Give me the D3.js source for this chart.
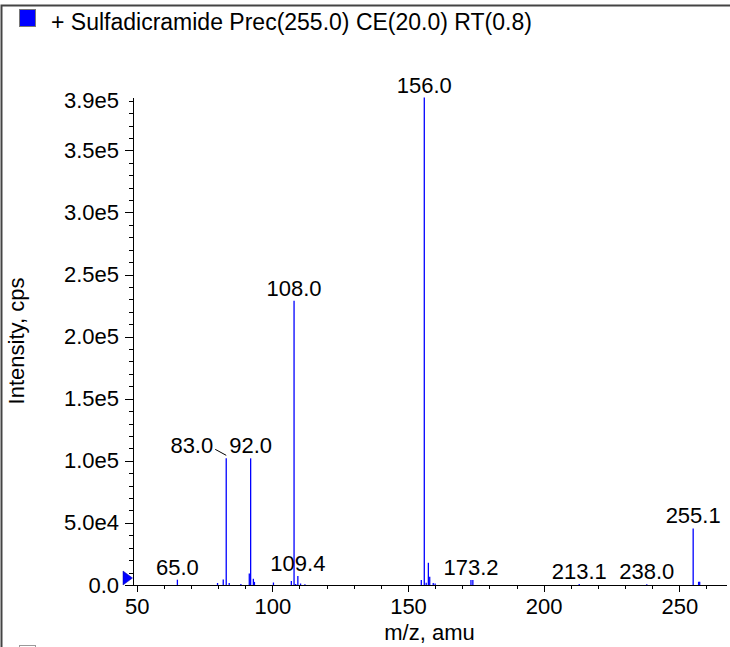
<!DOCTYPE html>
<html>
<head>
<meta charset="utf-8">
<script src="https://cdn.jsdelivr.net/npm/d3@7"></script>
<style>
  body { margin: 0; background: #fff; }
  svg { display: block; font-family: "Liberation Sans", Arial, Helvetica, sans-serif; }
  .axis path, .axis line { stroke: #000; stroke-width: 1; shape-rendering: crispEdges; }
  .axis text { font-size: 22px; fill: #000; font-family: "Liberation Sans", Arial, sans-serif; }
  .peakLabel { font-size: 22px; fill: #000; }
</style>
</head>
<body>
<div id="plot"></div>
<script>
var width = 730;
var height = 647;

// Title / legend
var title = "+ Sulfadicramide Prec(255.0) CE(20.0) RT(0.8)";

// Peaks (m/z, intensity in cps)
var mz        = [65.0, 79.8, 81.9, 83.0, 84.1, 88.4, 91.5, 92.0, 93.0, 93.4, 100.4, 107.0, 108.0, 108.6, 109.4, 110.4, 112.0,
                 154.9, 156.0, 156.7, 157.5, 158.0, 159.3, 160.0, 173.2, 173.9, 213.1, 238.0, 255.1, 257.1, 257.5];
var intensity = [4300, 1600, 4400, 102000, 1600, 800, 9200, 102000, 5000, 2500, 2000, 3300, 229000, 900, 7300, 1200, 700,
                 4000, 392500, 1800, 17900, 6700, 1700, 1200, 4000, 4000, 800, 700, 45600, 2600, 2600];

// Annotated peaks
var labelMz = [65.0, 83.0, 92.0, 108.0, 109.4, 156.0, 173.2, 213.1, 238.0, 255.1];

// Axis ticks
var xMajor = [50, 100, 150, 200, 250];
var xMinor = d3.range(50, 261, 10);
var yMajor = [0, 50000, 100000, 150000, 200000, 250000, 300000, 350000, 390000];
var yMinor = d3.range(0, 390001, 10000);
var xDomain = [48.64, 267.2];
var yDomain = [0, 393000];

var plotLeft = 133, plotRight = 726, plotTop = 97, plotBottom = 585;

var svg = d3.select("#plot").append("svg")
    .attr("width", width)
    .attr("height", height);

// Frame
svg.append("path")
    .attr("d", "M" + width + ",5.5H1.5V" + height)
    .attr("fill", "none")
    .attr("stroke", "#444")
    .attr("stroke-width", 2);

// Legend square + title
svg.append("rect")
    .attr("x", 19.5).attr("y", 9.5)
    .attr("width", 16).attr("height", 17)
    .attr("fill", "#0000ff")
    .attr("stroke", "#777");
svg.append("text")
    .attr("x", 51)
    .attr("y", 29.5)
    .style("font-size", "23px")
    .text(title);

// partially visible next legend entry at bottom
svg.append("rect")
    .attr("x", 19.5).attr("y", 645.5)
    .attr("width", 16).attr("height", 17)
    .attr("fill", "#fff")
    .attr("stroke", "#999");

var scaleX = d3.scaleLinear().domain(xDomain).range([plotLeft, plotRight]);
var scaleY = d3.scaleLinear().domain(yDomain).range([plotBottom, plotTop]);

function fmtY(v) {
    if (v === 0) return "0.0";
    return d3.format(".1e")(v).replace("e+", "e");
}

// X axis: minor then major
svg.append("g")
    .attr("class", "axis")
    .attr("transform", "translate(0," + plotBottom + ")")
    .call(d3.axisBottom(scaleX).tickValues(xMinor).tickSize(4).tickSizeOuter(0).tickFormat(""));
svg.append("g")
    .attr("class", "axis")
    .attr("transform", "translate(0," + plotBottom + ")")
    .call(d3.axisBottom(scaleX).tickValues(xMajor).tickSize(7).tickSizeOuter(0).tickPadding(6).tickFormat(d3.format("d")));

// Y axis: minor then major
svg.append("g")
    .attr("class", "axis")
    .attr("transform", "translate(" + plotLeft + ",0)")
    .call(d3.axisLeft(scaleY).tickValues(yMinor).tickSize(4).tickSizeOuter(0).tickFormat(""));
var yAxisG = svg.append("g")
    .attr("class", "axis")
    .attr("transform", "translate(" + plotLeft + ",0)")
    .call(d3.axisLeft(scaleY).tickValues(yMajor).tickSize(8).tickSizeOuter(0).tickPadding(6).tickFormat(fmtY));
// top label tick is a short one
yAxisG.selectAll(".tick").filter(function(d) { return d === 390000; })
    .select("line").attr("x2", -4);

// Axis titles
svg.append("text")
    .attr("x", (plotLeft + plotRight) / 2)
    .attr("y", 639.5)
    .attr("text-anchor", "middle")
    .style("font-size", "22px")
    .text("m/z, amu");
svg.append("text")
    .attr("transform", "translate(23.5," + (plotTop + plotBottom) / 2 + ") rotate(-90)")
    .attr("text-anchor", "middle")
    .style("font-size", "22px")
    .text("Intensity, cps");

// Spectrum sticks
var peaks = mz.map(function(m, i) { return { mz: m, intensity: intensity[i] }; });
svg.append("g").selectAll("line.peak")
    .data(peaks)
    .enter().append("line")
    .attr("class", "peak")
    .attr("x1", function(d) { return scaleX(d.mz); })
    .attr("x2", function(d) { return scaleX(d.mz); })
    .attr("y1", scaleY(0))
    .attr("y2", function(d) { return scaleY(d.intensity); })
    .attr("stroke", "#0000ff")
    .attr("stroke-width", 1.3);

// Zero marker triangle
svg.append("path")
    .attr("d", "M" + (plotLeft - 10) + "," + (scaleY(0) - 14) + "L" + (plotLeft - 0.5) + "," + (scaleY(0) - 7) +
               "L" + (plotLeft - 10) + "," + scaleY(0) + "Z")
    .attr("fill", "#0000ff")
    .attr("stroke", "#0000aa")
    .attr("stroke-width", 0.5);

// Peak labels
var labels = labelMz.map(function(m) {
    var i = mz.indexOf(m);
    return { mz: m, intensity: intensity[i], text: d3.format(".1f")(m) };
});

var labelG = svg.append("g");
labels.forEach(function(d) {
    d.px = scaleX(d.mz);
    d.top = scaleY(d.intensity);
    d.node = labelG.append("text")
        .attr("class", "peakLabel")
        .attr("x", d.px)
        .attr("y", d.top - 5)
        .attr("text-anchor", "middle")
        .text(d.text);
    d.w = d.node.node().getComputedTextLength();
});

// Push a label left if it collides with the next one at the same height
for (var i = 0; i < labels.length - 1; i++) {
    var a = labels[i], b = labels[i + 1];
    var sameRow = Math.abs(a.top - b.top) < 20;
    if (sameRow && a.px + a.w / 2 > b.px - b.w / 2 - 2) {
        var endX = a.px - 13;
        a.node.attr("text-anchor", "end").attr("x", endX);
        labelG.append("line")
            .attr("x1", endX + 2).attr("y1", a.top - 9)
            .attr("x2", a.px).attr("y2", a.top - 3)
            .attr("stroke", "#000")
            .attr("stroke-width", 1);
    }
}
</script>
</body>
</html>
